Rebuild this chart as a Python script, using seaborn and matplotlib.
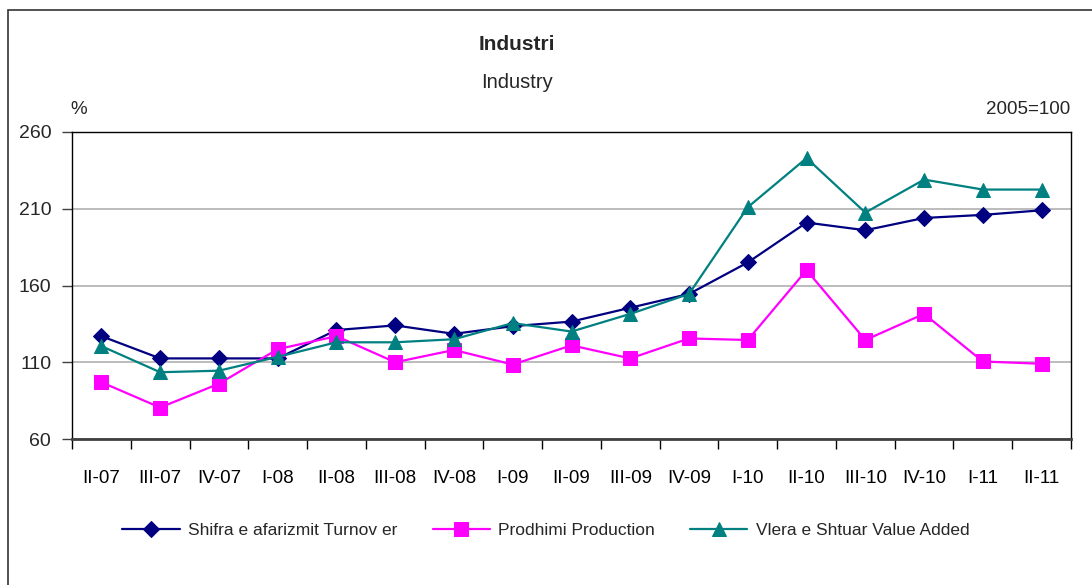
import pandas as pd
import matplotlib.pyplot as plt
import matplotlib.patches as mpatches
import seaborn as sns

# Quarters and index values (2005=100)
quarters = ['II-07', 'III-07', 'IV-07', 'I-08', 'II-08', 'III-08', 'IV-08', 'I-09', 'II-09',
            'III-09', 'IV-09', 'I-10', 'II-10', 'III-10', 'IV-10', 'I-11', 'II-11']
turnover = [127, 112.5, 112.5, 112.5, 131, 134, 128.5, 133.5, 136.5,
            145.5, 154.5, 175, 201, 196, 204, 206, 209]
production = [97, 80.5, 96, 118.5, 127, 110, 118, 108.5, 121,
              112.5, 125.5, 124.5, 170, 124.5, 141.5, 110.5, 109]
value_added = [120.5, 103.5, 104.5, 113.5, 123, 123, 125, 135.5, 130,
               141.5, 154.5, 211, 243, 207.5, 229, 222.5, 222.5]

names = ['Shifra e afarizmit Turnov er', 'Prodhimi Production', 'Vlera e Shtuar Value Added']

df = pd.concat([
    pd.DataFrame({'Quarter': quarters, 'Value': turnover, 'Series': names[0]}),
    pd.DataFrame({'Quarter': quarters, 'Value': production, 'Series': names[1]}),
    pd.DataFrame({'Quarter': quarters, 'Value': value_added, 'Series': names[2]}),
])

sns.set_style('white')
plt.rcParams['font.family'] = ['Liberation Sans Narrow', 'Liberation Sans', 'DejaVu Sans']

fig = plt.figure(figsize=(10.92, 5.85), dpi=100)
ax = fig.add_axes([72 / 1092, 1 - 439 / 585, (1071 - 72) / 1092, (439 - 132) / 585])

palette = {names[0]: '#000080', names[1]: '#FF00FF', names[2]: '#008080'}
markers = {names[0]: 'D', names[1]: 's', names[2]: '^'}
sizes = {names[0]: 8, names[1]: 10.5, names[2]: 10}

for name in names:
    sub = df[df['Series'] == name]
    sns.lineplot(data=sub, x='Quarter', y='Value', color=palette[name], marker=markers[name],
                 markersize=sizes[name], markeredgecolor=palette[name], linewidth=1.6,
                 sort=False, label=name, ax=ax)

ax.set_ylim(60, 260)
ax.set_yticks([60, 110, 160, 210, 260])
ax.set_xlim(-0.5, len(quarters) - 0.5)
ax.set_xticks(range(len(quarters)))
ax.set_xticklabels(quarters)
ax.set_xticks([i - 0.5 for i in range(len(quarters) + 1)], minor=True)
ax.tick_params(axis='x', which='major', length=0, pad=22, labelsize=13.5, colors='black')
ax.tick_params(axis='x', which='minor', length=7, width=1, direction='out', color='black', bottom=True)
ax.tick_params(axis='y', length=7, width=1, direction='out', color='#404040', left=True, labelsize=14, pad=8)
ax.grid(axis='y', color='#B0B0B0', linewidth=1.2)
ax.set_xlabel('')
ax.set_ylabel('')

for side in ['left', 'top', 'right']:
    ax.spines[side].set_color('black')
    ax.spines[side].set_linewidth(1)
ax.spines['bottom'].set_color('#404040')
ax.spines['bottom'].set_linewidth(2)

handles, labels = ax.get_legend_handles_labels()
ax.legend_.remove()
fig.legend(handles, labels, loc='center', bbox_to_anchor=(546 / 1092, 1 - 530 / 585), ncol=3,
           frameon=False, fontsize=12.5, handlelength=3.3, columnspacing=2.0, handletextpad=0.5)

fig.text(517 / 1092, 1 - 45 / 585, 'Industri', ha='center', va='center', fontsize=15, fontweight='bold')
fig.text(517 / 1092, 1 - 83 / 585, 'Industry', ha='center', va='center', fontsize=14.5)
fig.text(70 / 1092, 1 - 110 / 585, '%', ha='left', va='center', fontsize=13.5)
fig.text(1070 / 1092, 1 - 110 / 585, '2005=100', ha='right', va='center', fontsize=13.5)

# outer chart border
fig.patches.append(mpatches.Rectangle((8 / 1092, -0.05), 1.2, 1 - 10 / 585 + 0.05, transform=fig.transFigure,
                                      fill=False, edgecolor='#333333', linewidth=1.2))

fig.savefig('out.png', dpi=100)
